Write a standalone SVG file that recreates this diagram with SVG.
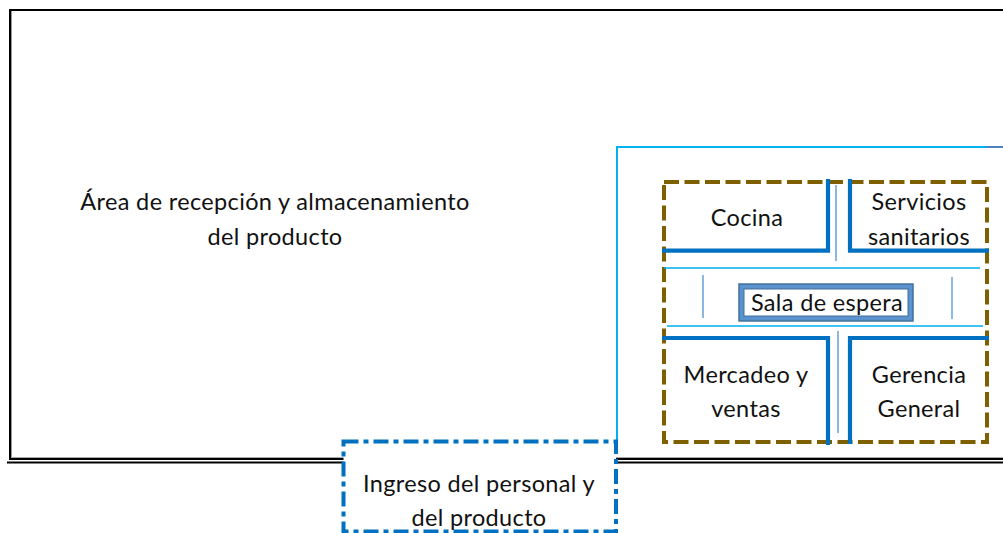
<svg xmlns="http://www.w3.org/2000/svg" width="1003" height="533" viewBox="0 0 1003 533">
<style>
text{font-family:"Lato","Carlito","Liberation Sans",sans-serif;font-size:23.500px;letter-spacing:.35px;fill:#111;text-anchor:middle}
.wall{fill:none;stroke:#0070c0;stroke-width:4.200}
.thin{fill:none;stroke:#5b9bd5;stroke-width:1.400}
.cyan{fill:none;stroke:#00b0f0;stroke-width:1.400}
</style>
<rect width="1003" height="533" fill="#fff"/>
<g id="connectors">
<path d="M1003 10H10V460" fill="none" stroke="#000" stroke-width="2"/>
<path d="M11.500 11V457" fill="none" stroke="#999" stroke-width="1"/>
<path d="M11 457.500H1003" fill="none" stroke="#aaa" stroke-width="1"/>
<path d="M10 459H1003M7 462.500H1003" fill="none" stroke="#000" stroke-width="2"/>
</g>
<g id="area-recepcion">
<text x="275" y="210">Área de recepción y almacenamiento</text>
<text x="275" y="245">del producto</text>
</g>
<g id="oficinas">
<path d="M617 442V147H1003" fill="none" stroke="#00b0f0" stroke-width="2"/>
<path d="M987 147H1003" fill="none" stroke="#4f81bd" stroke-width="2"/>
<rect x="664" y="182" width="323" height="260" fill="none" stroke="#7f6000" stroke-width="4" stroke-dasharray="15 5.500"/>
</g>
<g id="cocina">
<path class="wall" d="M662 250.700H828V179"/>
<text x="747" y="226">Cocina</text>
</g>
<g id="servicios">
<path class="wall" d="M850 179V250.700H989"/>
<text x="919" y="210">Servicios</text>
<text x="919" y="245">sanitarios</text>
</g>
<g id="mercadeo">
<path class="wall" d="M662 338H828V445"/>
<text x="746" y="383">Mercadeo y</text>
<text x="746" y="417">ventas</text>
</g>
<g id="gerencia">
<path class="wall" d="M850 444V338H989"/>
<text x="919" y="383">Gerencia</text>
<text x="919" y="417">General</text>
</g>
<g id="pasillos">
<path class="thin" d="M836 185V261M838 331V433M703 275V318M952 277V319"/>
<path class="cyan" d="M664 268H980M667 326H983"/>
</g>
<g id="sala-espera">
<rect x="739" y="284" width="174" height="37" fill="#5b93cf" stroke="#41719c" stroke-width="1.500"/>
<rect x="744" y="289" width="164" height="27" fill="#fff" stroke="#41719c" stroke-width="1"/>
<text x="827" y="311">Sala de espera</text>
</g>
<g id="ingreso">
<rect x="343.500" y="441.500" width="272.500" height="90" fill="#fff" stroke="#0070c0" stroke-width="4" stroke-dasharray="15 5 5 5"/>
<text x="479" y="492">Ingreso del personal y</text>
<text x="479" y="526">del producto</text>
</g>
</svg>
